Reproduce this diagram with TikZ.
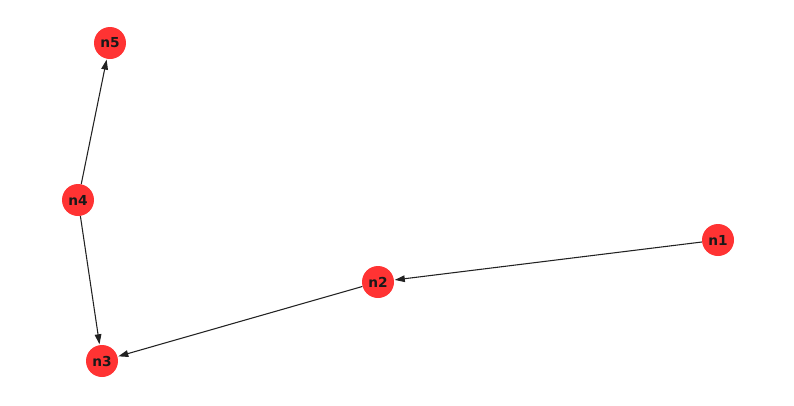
\documentclass[tikz,border=0pt]{standalone}
\usepackage{fontspec}
\setmainfont{DejaVu Sans}
\usetikzlibrary{arrows.meta}
\definecolor{nodered}{HTML}{FF3333}
\definecolor{edgegray}{HTML}{222222}
\begin{document}
\begin{tikzpicture}[x=0.75pt,y=-0.75pt,
  gnode/.style={circle,fill=nodered,draw=none,minimum size=24pt,inner sep=0pt,font=\bfseries\fontsize{10.3pt}{12pt}\selectfont,text=black!90},
  gedge/.style={draw=edgegray,line width=0.8pt,-{Triangle[length=7.5pt,width=5pt]},shorten >=0.5pt}]
\useasboundingbox (0,0) rectangle (794,405);
\node[gnode] (n5) at (110,43) {n5};
\node[gnode] (n4) at (78,200) {n4};
\node[gnode] (n3) at (102,361) {n3};
\node[gnode] (n2) at (378,282) {n2};
\node[gnode] (n1) at (718,240) {n1};
\draw[gedge] (n4) -- (n5);
\draw[gedge] (n4) -- (n3);
\draw[gedge] (n1) -- (n2);
\draw[gedge] (n2) -- (n3);
\end{tikzpicture}
\end{document}
